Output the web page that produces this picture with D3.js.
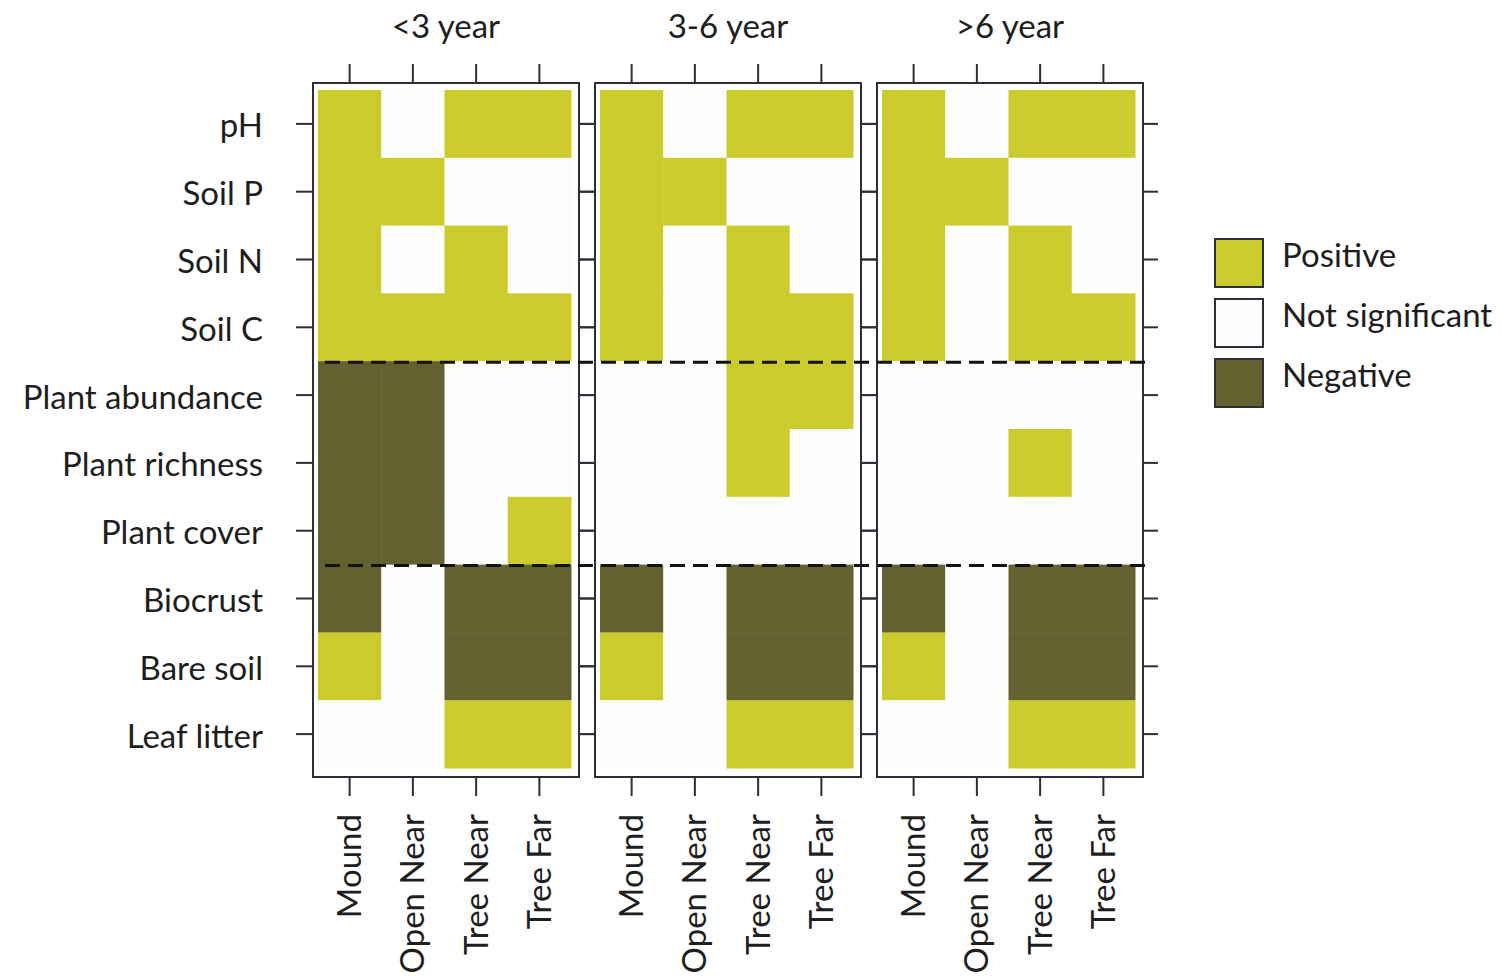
<!DOCTYPE html>
<html>
<head>
<meta charset="utf-8">
<script src="https://cdn.jsdelivr.net/npm/d3@7"></script>
<style>
  body { margin: 0; background: #fff; }
  svg text { font-family: Lato, "Open Sans", sans-serif; fill: #1e1e1e; }
</style>
</head>
<body>
<svg></svg>
<script>
// Panel titles (age of mound)
const ages = ["<3 year", "3-6 year", ">6 year"];

// Positions along the x axis
const positions = ["Mound", "Open Near", "Tree Near", "Tree Far"];

// Response variables, top to bottom
const variables = ["pH", "Soil P", "Soil N", "Soil C", "Plant abundance",
  "Plant richness", "Plant cover", "Biocrust", "Bare soil", "Leaf litter"];

// Effect codes: 1 = positive, 0 = not significant, -1 = negative
// one row per variable, columns follow positions
const under3 = [
  [1, 0, 1, 1],
  [1, 1, 0, 0],
  [1, 0, 1, 0],
  [1, 1, 1, 1],
  [-1, -1, 0, 0],
  [-1, -1, 0, 0],
  [-1, -1, 0, 1],
  [-1, 0, -1, -1],
  [1, 0, -1, -1],
  [0, 0, 1, 1]
];
const from3to6 = [
  [1, 0, 1, 1],
  [1, 1, 0, 0],
  [1, 0, 1, 0],
  [1, 0, 1, 1],
  [0, 0, 1, 1],
  [0, 0, 1, 0],
  [0, 0, 0, 0],
  [-1, 0, -1, -1],
  [1, 0, -1, -1],
  [0, 0, 1, 1]
];
const over6 = [
  [1, 0, 1, 1],
  [1, 1, 0, 0],
  [1, 0, 1, 0],
  [1, 0, 1, 1],
  [0, 0, 0, 0],
  [0, 0, 1, 0],
  [0, 0, 0, 0],
  [-1, 0, -1, -1],
  [1, 0, -1, -1],
  [0, 0, 1, 1]
];

// Legend entries
const effectCodes = [1, 0, -1];
const effectLabels = ["Positive", "Not significant", "Negative"];

// Dashed separators drawn after these variables
const groupEnds = ["Soil C", "Plant cover"];

const panelData = [under3, from3to6, over6];

const width = 1501;
const height = 976;
const panelW = 266;
const panelH = 694;
const panelGap = 16;
const marginLeft = 313;
const marginTop = 83;
const tickLen = 17;
const fontSize = 33;

const color = d3.scaleOrdinal()
  .domain(effectCodes)
  .range(["#cbcb2e", "#fdfdfd", "#646130"]);

const svg = d3.select("svg").attr("width", width).attr("height", height);

// Panel placement
const px = d3.scaleBand()
  .domain(ages)
  .range([marginLeft, marginLeft + 3 * panelW + 2 * panelGap])
  .paddingInner(panelGap / (panelW + panelGap));

// Scales inside a panel
const x = d3.scaleBand().domain(positions).range([5, panelW - 8]);
const y = d3.scaleBand().domain(variables).range([7, panelH - 9]);

// Build cell table
const cells = [];
ages.forEach((age, a) => {
  variables.forEach((v, i) => {
    positions.forEach((p, j) => {
      cells.push({ age: age, variable: v, position: p, effect: panelData[a][i][j] });
    });
  });
});

const panels = svg.selectAll(".panel")
  .data(ages)
  .join("g")
  .attr("class", "panel")
  .attr("transform", (d) => `translate(${px(d)},${marginTop})`);

// Cells
panels.selectAll("rect.cell")
  .data((age) => cells.filter((c) => c.age === age))
  .join("rect")
  .attr("class", "cell")
  .attr("x", (d) => x(d.position))
  .attr("y", (d) => y(d.variable))
  .attr("width", x.bandwidth() + 0.5)
  .attr("height", y.bandwidth() + 0.5)
  .attr("fill", (d) => color(d.effect));

// Panel frame
panels.append("rect")
  .attr("width", panelW)
  .attr("height", panelH)
  .attr("fill", "none")
  .attr("stroke", "#2e2e38")
  .attr("stroke-width", 2);

// Ticks on all four sides
const xTicks = (sel) => sel.selectAll(null)
  .data(positions)
  .join("line")
  .attr("x1", (d) => x(d) + x.bandwidth() / 2)
  .attr("x2", (d) => x(d) + x.bandwidth() / 2)
  .attr("stroke", "#2e2e38")
  .attr("stroke-width", 2);

const yTicks = (sel) => sel.selectAll(null)
  .data(variables)
  .join("line")
  .attr("y1", (d) => y(d) + y.bandwidth() / 2)
  .attr("y2", (d) => y(d) + y.bandwidth() / 2)
  .attr("stroke", "#2e2e38")
  .attr("stroke-width", 2);

panels.append("g").call(xTicks).selectAll("line").attr("y1", -tickLen - 2).attr("y2", 0);
panels.append("g").call(xTicks).selectAll("line").attr("y1", panelH).attr("y2", panelH + tickLen + 2);
panels.append("g").call(yTicks).selectAll("line").attr("x1", -tickLen).attr("x2", 0);
panels.append("g").call(yTicks).selectAll("line").attr("x1", panelW).attr("x2", panelW + tickLen - 2);

// Strip titles
panels.append("text")
  .attr("x", panelW / 2)
  .attr("y", 26 - marginTop)
  .attr("dy", "0.35em")
  .attr("text-anchor", "middle")
  .style("font-size", `${fontSize}px`)
  .text((d) => d);

// X labels, rotated
panels.selectAll("text.xlab")
  .data(positions)
  .join("text")
  .attr("class", "xlab")
  .attr("transform", (d) => `translate(${x(d) + x.bandwidth() / 2},${panelH + 37}) rotate(-90)`)
  .attr("dy", "0.35em")
  .attr("text-anchor", "end")
  .style("font-size", `${fontSize}px`)
  .text((d) => d);

// Y labels on the left of the first panel
svg.append("g")
  .selectAll("text")
  .data(variables)
  .join("text")
  .attr("x", marginLeft - 50)
  .attr("y", (d) => marginTop + y(d) + y.bandwidth() / 2 + 2)
  .attr("dy", "0.35em")
  .attr("text-anchor", "end")
  .style("font-size", `${fontSize}px`)
  .text((d) => d);

// Dashed separators across all panels
svg.append("g")
  .selectAll("line")
  .data(groupEnds)
  .join("line")
  .attr("x1", marginLeft + 12)
  .attr("x2", px(ages[2]) + panelW + 8)
  .attr("y1", (d) => marginTop + y(d) + y.bandwidth() + 1)
  .attr("y2", (d) => marginTop + y(d) + y.bandwidth() + 1)
  .attr("stroke", "#111")
  .attr("stroke-width", 3)
  .attr("stroke-dasharray", "15,8");

// Legend
const legend = svg.append("g").attr("transform", "translate(1215,239)");
const legendItems = legend.selectAll("g")
  .data(effectCodes)
  .join("g")
  .attr("transform", (d, i) => `translate(0,${i * 60})`);

legendItems.append("rect")
  .attr("width", 48)
  .attr("height", 48)
  .attr("fill", (d) => color(d))
  .attr("stroke", "#2e2e38")
  .attr("stroke-width", 2);

legendItems.append("text")
  .attr("x", 67)
  .attr("y", 16)
  .attr("dy", "0.35em")
  .style("font-size", `${fontSize}px`)
  .text((d, i) => effectLabels[i]);
</script>
</body>
</html>
